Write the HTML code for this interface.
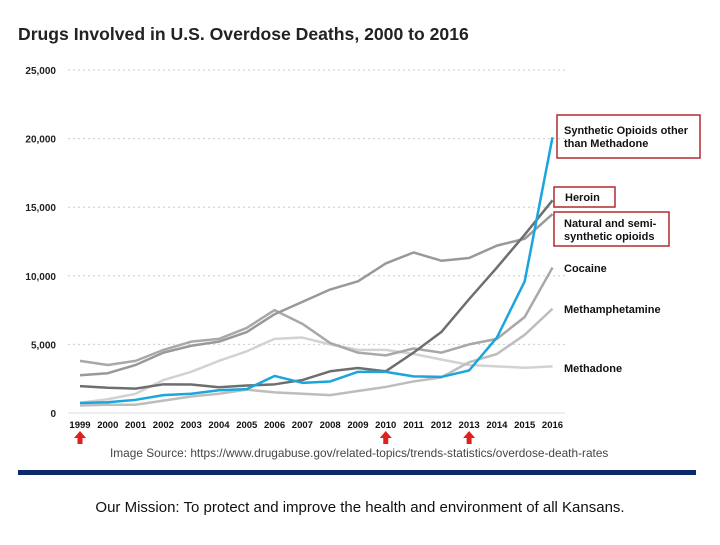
<!DOCTYPE html>
<html><head><meta charset="utf-8"><style>
body{margin:0;background:#fff;width:720px;height:540px;overflow:hidden;font-family:"Liberation Sans",sans-serif}
</style></head><body>
<svg width="720" height="540" xmlns="http://www.w3.org/2000/svg">
<text x="18" y="40" font-size="17.6" font-weight="bold" fill="#222">Drugs Involved in U.S. Overdose Deaths, 2000 to 2016</text>
<g id="grid"></g><g id="lines"></g><g id="xt"></g>
<g font-size="11" font-weight="bold" fill="#111">
<rect x="557" y="115" width="143" height="43" fill="none" stroke="#b02a30" stroke-width="1.5"/>
<text x="564" y="134">Synthetic Opioids other</text>
<text x="564" y="147">than Methadone</text>
<rect x="554" y="187" width="61" height="20" fill="none" stroke="#b02a30" stroke-width="1.5"/>
<text x="565" y="201">Heroin</text>
<rect x="554" y="212" width="115" height="34" fill="none" stroke="#b02a30" stroke-width="1.5"/>
<text x="564" y="227">Natural and semi-</text>
<text x="564" y="240">synthetic opioids</text>
<text x="564" y="272">Cocaine</text>
<text x="564" y="313">Methamphetamine</text>
<text x="564" y="372">Methadone</text>
</g>
<text x="110" y="457" font-size="11.85" fill="#444">Image Source: https://www.drugabuse.gov/related-topics/trends-statistics/overdose-death-rates</text>
<rect x="18" y="470" width="678" height="5" fill="#0a2a6b"/>
<text x="360" y="512" font-size="15" text-anchor="middle" fill="#111">Our Mission: To protect and improve the health and environment of all Kansans.</text>
</svg>
<script>
const years=[1999,2000,2001,2002,2003,2004,2005,2006,2007,2008,2009,2010,2011,2012,2013,2014,2015,2016];
const yTicks=[0,5000,10000,15000,20000,25000];
const synthetic=[730,780,960,1300,1400,1660,1740,2700,2200,2300,3000,3000,2670,2630,3100,5500,9600,20100];
const heroin=[1960,1840,1780,2090,2080,1880,2000,2090,2400,3040,3280,3040,4400,5900,8300,10600,13000,15500];
const natural=[2750,2900,3500,4400,4900,5200,5900,7200,8100,9000,9600,10900,11700,11100,11300,12200,12700,14500];
const cocaine=[3800,3500,3800,4600,5200,5400,6200,7500,6500,5100,4400,4200,4700,4400,5000,5400,7000,10600];
const meth=[550,600,600,900,1200,1400,1700,1500,1400,1300,1600,1900,2300,2600,3700,4300,5700,7600];
const methadone=[750,1000,1400,2400,3000,3800,4500,5400,5500,5000,4600,4600,4300,3900,3500,3400,3300,3400];
const arrowYears=[1999,2010,2013];
const NS='http://www.w3.org/2000/svg';
const x=y=>80+(y-1999)*(552.5-80)/17;
const yv=v=>413-v*(343/25000);
function mk(t,a,p){const e=document.createElementNS(NS,t);for(const k in a)e.setAttribute(k,a[k]);p.appendChild(e);return e;}
const grid=document.getElementById('grid');
yTicks.forEach(v=>{
 const l=mk('line',{x1:68,x2:565,y1:yv(v),y2:yv(v),stroke:v?'#ccc':'#ddd','stroke-dasharray':v?'2,3':'none'},grid);
 
 
 const t=mk('text',{x:56,y:yv(v)+4,'font-size':10,'font-weight':'bold','text-anchor':'end',fill:'#222'},grid);
 t.textContent=v.toLocaleString('en-US');
 
 
});
const xt=document.getElementById('xt');
years.forEach(yr=>{
 const t=mk('text',{x:x(yr),y:428,'font-size':9.5,'font-weight':'bold','text-anchor':'middle',fill:'#111'},xt);
 t.textContent=yr;
 
 
});
arrowYears.forEach(yr=>{
 const p=mk('path',{d:`M${x(yr)-6} 438 L${x(yr)} 431 L${x(yr)+6} 438 L${x(yr)+2.5} 438 L${x(yr)+2.5} 444 L${x(yr)-2.5} 444 L${x(yr)-2.5} 438 Z`,fill:'#e0201c'},xt);
 
 
});
const series=[[methadone,'#d2d2d2','line-methadone'],[meth,'#bdbdbd','line-methamphetamine'],[cocaine,'#a8a8a8','line-cocaine'],[natural,'#999','line-natural-opioids'],[heroin,'#6e6e6e','line-heroin'],[synthetic,'#1aa6dc','line-synthetic-opioids']];
const lg=document.getElementById('lines');
series.forEach(([d,c,n])=>{
 const p=mk('polyline',{points:d.map((v,i)=>x(years[i])+','+yv(v)).join(' '),fill:'none',stroke:c,'stroke-width':2.5,'stroke-linejoin':'round'},lg);
 
 
});
</script>
</body></html>
